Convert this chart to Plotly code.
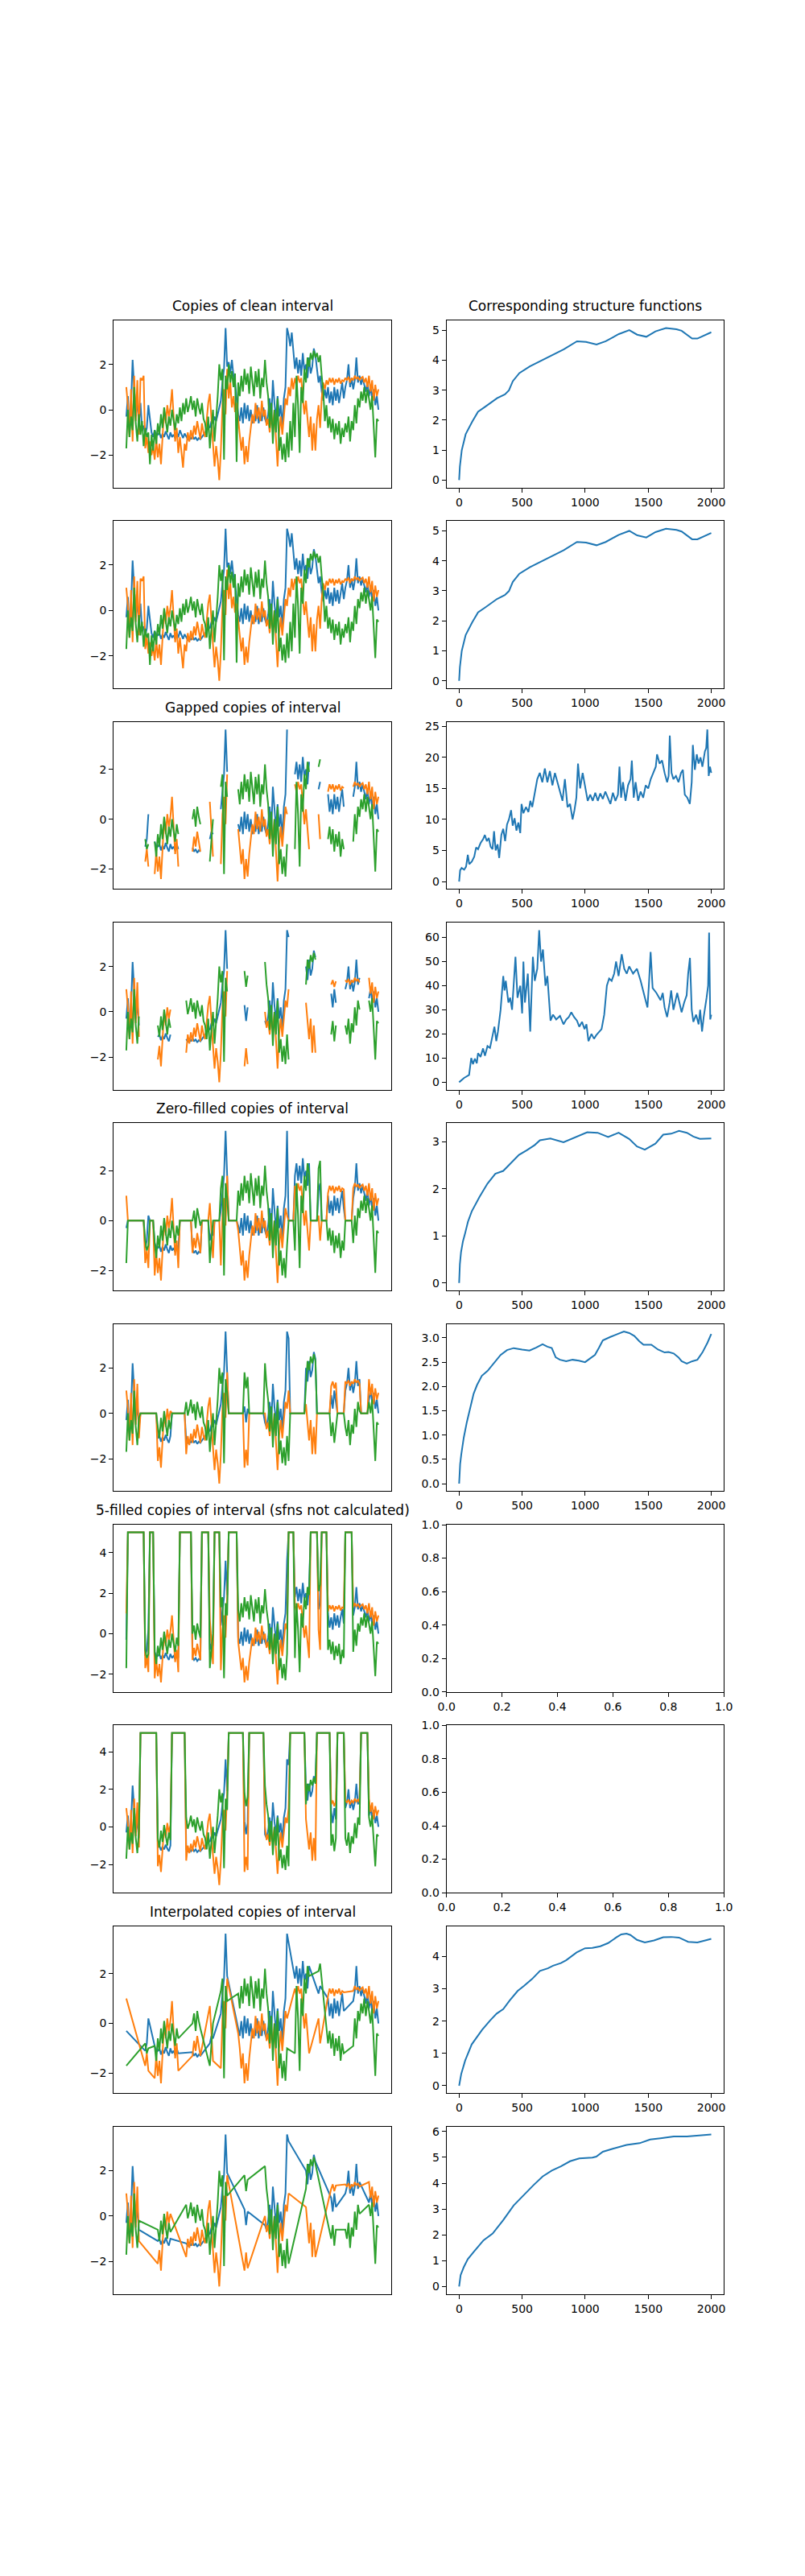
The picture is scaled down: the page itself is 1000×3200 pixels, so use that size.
import plotly.graph_objects as go

# three copies of the clean interval, 161 samples each
idx = list(range(161))
blue = [
    -0.3, 0.6, -0.9, 0.2, 2.2, 0.9, -0.3, 0.4, -0.6, 0.3,
    -0.9, -0.7, -1.1, -0.8, 0.2, -0.4, -1.0, -1.2, -0.9, -1.1,
    -1.1, -1.0, -1.25, -1.05, -1.2, -0.95, -1.15, -1.3, -1.0, -1.2,
    -1.1, -1.25, -1.0, -1.2, -0.9, -1.1, -1.25, -1.05, -1.2, -1.3,
    -1.2, -1.3, -1.15, -1.3, -1.2, -1.35, -1.25, -1.3, -1.2, -1.1,
    -1.0, -0.9, -0.7, -0.8, -0.5, -0.6, -0.3, -0.5, -0.2, 0.1,
    0.4, 1.2, 1.8, 3.6, 1.9, 2.1, 1.6, 2.2, 1.5, 1.2,
    0.6, -0.2, -0.5, 0.1, -0.6, 0.3, -0.4, 0.2, -0.5, 0.0,
    -0.6, -0.3, -0.5, 0.2, -0.6, -0.2, -0.5, 0.1, -0.4, -0.6,
    -0.2, 0.5, -0.5, 1.3, 0.3, -0.4, 0.6, -0.3, 0.2, -0.8,
    0.5, 1.0, 3.6, 3.3, 2.8, 3.4, 2.6, 1.8, 2.3, 1.6,
    2.2, 1.5, 2.5, 1.7, 2.0, 1.4, 2.3, 1.6, 1.9, 2.7,
    2.4, 1.8, 1.2, 1.5, 0.8, 0.4, 0.9, 0.5, 1.0, 0.3,
    0.8, 0.2, 1.0, 0.4, 0.9, 0.3, 0.8, 1.2, 0.5, 1.0,
    1.3, 2.0, 1.0, 1.4, 0.9, 1.3, 2.3, 1.2, 1.5, 1.1,
    1.4, 1.1, 0.8, 1.2, 0.6, 1.0, 0.5, 0.9, 0.2, 0.6, 0.0,
]
orange = [
    1.0, 0.2, -1.2, 0.9, -1.4, 1.5, -0.5, 1.3, -1.1, 1.4,
    1.3, 1.5, -1.7, -1.2, -1.9, -1.4, -2.0, -1.6, -2.2, -1.3,
    -2.1, -1.5, -2.4, -1.2, 0.0, -0.6, 0.2, -0.3, 0.1, 0.9,
    -0.5, -1.4, -0.8, -1.9, -1.2, -2.0, -2.55, -1.5, -1.8, -1.0,
    -1.4, -0.9, -1.3, -0.7, -1.1, -0.5, -0.9, -1.3, -0.6, -1.0,
    -1.2, -0.4, 0.3, 0.7, -0.6, -1.5, -2.5, -1.6, -2.2, -3.1,
    -1.8, 0.2, 0.9, -0.2, 1.8, 0.5, 1.2, 0.1, 0.6, -0.1,
    0.3, -0.4, -1.0, -1.8, -1.2, -2.4, -1.6, -2.3, -1.4, -0.8,
    -0.2, -0.6, 0.3, -0.4, 0.1, -0.5, 0.4, -0.3, 0.0, -0.7,
    -0.4, -1.0, -0.2, -0.8, 0.0, -1.3, -2.5, -1.0, -0.3, -1.1,
    -0.2, 0.5, 0.2, 1.0, 0.6, 1.4, 0.9, 1.4, 1.1, 1.5,
    1.2, 1.4, 0.5, -0.2, 0.4, -0.5, -1.2, -0.3, -1.8, -0.6,
    -1.8, -0.4, 0.2, -0.8, 0.5, 1.2, 0.9, 1.3, 1.1, 1.4,
    1.2, 1.4, 1.1, 1.35, 1.2, 1.4, 1.15, 1.3, 1.25, 1.4,
    1.3, 1.45, 1.2, 1.4, 1.3, 1.5, 1.35, 1.45, 1.3, 1.4,
    1.45, 1.2, 1.4, 1.0, 1.5, 0.8, 1.3, 0.4, 1.1, 0.6, 0.9,
]
green = [
    -1.7, 0.0, -1.2, -0.3, -0.9, 1.0, -0.6, -1.4, -0.2, -1.1,
    -0.5, -1.6, -0.8, -1.2, -1.0, -2.4, -1.1, -1.8, -0.9, -1.5,
    -0.6, -1.1, -0.2, -0.8, 0.1, -0.5, -1.0, -0.3, -0.7, 0.0,
    -0.4, -0.9, -0.2, -0.6, 0.1, -0.5, 0.3, -0.2, 0.5, -0.1,
    0.2, 0.6, 0.0, 0.4, -0.3, 0.5, 0.1, -0.2, 0.3, -0.4,
    -0.6, -1.2, -0.3, -1.7, -0.8, 0.0, -1.4, -0.5, 0.6, 2.0,
    1.3, 1.8, -2.2, 1.5, 0.9, 2.0, 1.2, 1.7, 1.0, 1.6,
    -2.3, 1.2, 0.6, 1.5, 0.8, 1.8, 1.1, 1.6, 0.7, 1.9,
    1.3, 0.6, 1.7, 1.0, 1.8, 0.5, 1.4, 1.0, 2.2, 1.2,
    0.6, -0.8, 0.3, -1.5, 0.0, -1.0, 0.5, -1.8, -1.2, -2.2,
    -1.5, -2.3, -1.0, -2.1, -0.5, -1.8, 0.3, -1.2, 1.5, 0.2,
    -1.9, 1.0, 0.3, 1.8, 1.2, 2.3, 1.9, 2.5, 2.2, 2.6,
    2.3, 2.5, 2.1, 2.4, 1.5, 0.8, -0.5, 0.2, -0.8, -0.3,
    -1.0, -0.4, -1.3, -0.6, -1.1, -0.5, -1.5, -0.8, -1.2, -0.6,
    -1.0, -0.3, -1.4, -0.5, -0.9, 0.2, -0.6, 0.5, 0.1, 0.8,
    0.4, 1.0, 0.3, 0.9, 0.5, 0.0, 0.6, -0.9, -2.1, -0.4, -0.5,
]

# missing index ranges [start, end) for the two gapped versions
gaps_a = [(1, 12), (15, 18), (34, 42), (48, 53), (56, 60), (65, 71),
          (103, 107), (117, 122), (124, 128), (139, 144)]
gaps_b = [(9, 20), (29, 38), (65, 75), (78, 88), (104, 114),
          (121, 130), (134, 139), (149, 154)]

# structure functions (lag, value)
lags_clean = [0, 6, 21, 52, 104, 150, 208, 260, 301, 363, 395, 426, 478, 561, 665, 737,
              831, 935, 1007, 1090, 1163, 1267, 1350, 1412, 1485, 1558, 1641, 1724, 1765,
              1848, 1890, 2000]
sf_clean = [0, 0.45, 1.0, 1.53, 1.95, 2.28, 2.45, 2.6, 2.73, 2.86, 2.99, 3.3, 3.57, 3.79,
            4.01, 4.17, 4.36, 4.63, 4.61, 4.52, 4.63, 4.87, 5.0, 4.85, 4.78, 4.96, 5.07,
            5.03, 4.98, 4.72, 4.72, 4.93]

lags_gap_a = [0, 8, 20, 40, 55, 69, 80, 100, 120, 135,
              150, 170, 190, 204, 220, 235, 250, 265, 277, 290,
              305, 318, 335, 350, 365, 380, 395, 412, 425, 440,
              455, 470, 485, 495, 510, 530, 550, 565, 580, 600,
              620, 640, 660, 680, 700, 720, 740, 760, 780, 800,
              820, 839, 860, 880, 900, 915, 930, 943, 960, 980,
              1000, 1020, 1040, 1060, 1080, 1100, 1120, 1140, 1160, 1180,
              1200, 1220, 1240, 1260, 1272, 1285, 1300, 1320, 1340, 1360,
              1370, 1385, 1400, 1420, 1440, 1460, 1480, 1500, 1520, 1540,
              1560, 1570, 1590, 1610, 1630, 1650, 1662, 1671, 1685, 1700,
              1720, 1740, 1760, 1775, 1790, 1810, 1830, 1845, 1854, 1870,
              1885, 1900, 1915, 1930, 1950, 1960, 1969, 1980, 1990, 2000]
sf_gap_a = [0, 1.8, 2.2, 1.9, 2.4, 4.3, 2.8, 3.2, 4.0, 5.5,
            5.2, 6.2, 6.8, 7.5, 6.5, 7.0, 5.6, 5.2, 8.1, 5.0,
            6.0, 3.8, 7.5, 8.5, 6.5, 9.2, 10.0, 11.5, 9.0, 10.2,
            8.2, 9.5, 7.8, 12.5, 11.0, 12.0, 11.2, 13.0, 12.0, 14.5,
            16.5, 17.5, 16.0, 18.2, 16.0, 17.8, 15.5, 17.5, 16.0, 14.5,
            13.0, 16.5, 12.0, 12.5, 10.0, 11.5, 13.5, 19.0, 15.0, 17.5,
            15.0, 13.0, 14.0, 13.0, 14.3, 13.0, 14.2, 13.3, 14.5, 13.5,
            12.5, 14.3, 13.0, 14.0, 18.5, 13.5, 16.0, 13.0, 15.5, 16.5,
            19.5, 13.5, 16.0, 13.0, 14.5, 13.5, 15.5, 15.0, 16.5, 17.5,
            18.5, 20.5, 19.0, 19.5, 17.5, 16.0, 17.0, 23.5, 17.5, 16.5,
            17.0, 16.0, 17.5, 18.0, 14.0, 13.5, 12.5, 16.0, 22.0, 18.0,
            20.5, 19.0, 20.0, 18.5, 21.0, 21.5, 24.5, 17.0, 18.5, 17.5]

lags_gap_b = [0, 40, 79, 96, 110, 125, 140, 150, 170, 190,
              205, 225, 245, 266, 280, 295, 308, 329, 350, 360,
              370, 391, 405, 420, 447, 463, 485, 500, 510, 522,
              545, 564, 585, 600, 620, 635, 650, 665, 685, 700,
              714, 725, 745, 770, 800, 828, 850, 870, 890, 912,
              935, 953, 975, 995, 1010, 1026, 1050, 1070, 1088, 1110,
              1130, 1151, 1172, 1190, 1210, 1230, 1245, 1265, 1290, 1310,
              1330, 1349, 1380, 1411, 1440, 1474, 1494, 1505, 1519, 1535,
              1565, 1598, 1615, 1630, 1650, 1670, 1682, 1700, 1730, 1765,
              1785, 1805, 1817, 1831, 1845, 1858, 1880, 1900, 1912, 1927,
              1940, 1963, 1975, 1983, 1992, 2000]
sf_gap_b = [0, 1.8, 3.0, 10.0, 7.5, 9.8, 7.8, 12.0, 10.5, 14.0,
            11.0, 15.0, 14.2, 20.0, 23.0, 17.0, 21.0, 30.0, 44.0, 38.0,
            42.0, 33.0, 35.0, 30.0, 52.0, 35.0, 40.0, 28.5, 50.0, 33.0,
            45.0, 21.0, 52.0, 42.0, 47.0, 63.0, 50.0, 55.0, 40.0, 44.0,
            35.0, 25.5, 28.0, 26.0, 27.5, 24.0, 26.0, 27.0, 29.0, 27.0,
            25.5, 23.0, 25.0, 22.0, 24.0, 17.0, 20.0, 18.0, 19.5, 21.0,
            22.0, 28.0, 40.0, 43.0, 42.0, 45.0, 50.0, 44.0, 53.0, 47.0,
            45.0, 48.0, 45.0, 47.0, 42.0, 35.0, 31.0, 40.0, 54.0, 39.0,
            37.0, 34.0, 37.0, 31.0, 27.0, 33.0, 38.0, 30.0, 37.0, 29.0,
            33.0, 36.0, 45.0, 51.5, 30.0, 25.0, 28.0, 24.0, 30.0, 21.0,
            27.0, 35.0, 40.0, 62.0, 26.0, 28.0]

lags_zero_a = [0, 6, 15, 30, 48, 70, 100, 130, 162, 225, 287, 350, 412, 475, 537, 600,
               641, 724, 828, 932, 1016, 1099, 1182, 1265, 1349, 1411, 1473, 1557, 1619,
               1682, 1744, 1807, 1858, 1910, 2000]
sf_zero_a = [0, 0.4, 0.65, 0.88, 1.06, 1.3, 1.52, 1.68, 1.83, 2.11, 2.32, 2.38, 2.55, 2.72,
             2.82, 2.93, 3.03, 3.07, 2.99, 3.1, 3.2, 3.19, 3.1, 3.19, 3.06, 2.9, 2.83, 2.96,
             3.15, 3.17, 3.23, 3.19, 3.11, 3.06, 3.07]

lags_zero_b = [0, 8, 17, 37, 60, 90, 115, 142, 180, 225, 280, 329, 380, 433, 500, 558, 610,
               662, 700, 735, 766, 800, 849, 900, 950, 999, 1040, 1078, 1110, 1140, 1200,
               1250, 1307, 1350, 1390, 1430, 1463, 1525, 1578, 1630, 1661, 1702, 1740, 1765,
               1806, 1850, 1890, 1930, 1970, 2000]
sf_zero_b = [0, 0.4, 0.6, 0.95, 1.25, 1.6, 1.85, 2.03, 2.22, 2.32, 2.5, 2.65, 2.75, 2.79,
             2.76, 2.74, 2.8, 2.87, 2.82, 2.79, 2.6, 2.55, 2.52, 2.55, 2.53, 2.5, 2.58, 2.65,
             2.8, 2.95, 3.02, 3.07, 3.13, 3.1, 3.04, 2.93, 2.86, 2.86, 2.76, 2.7, 2.71, 2.68,
             2.6, 2.52, 2.47, 2.52, 2.55, 2.7, 2.9, 3.08]

lags_interp_a = [0, 17, 48, 100, 183, 246, 298, 350, 402, 464, 516, 579, 641, 704, 745, 807,
                 849, 932, 999, 1057, 1120, 1182, 1245, 1286, 1328, 1359, 1411, 1473, 1546,
                 1619, 1682, 1744, 1817, 1890, 1952, 2000]
sf_interp_a = [0, 0.37, 0.78, 1.28, 1.73, 2.02, 2.23, 2.37, 2.64, 2.93, 3.09, 3.3, 3.55, 3.63,
               3.71, 3.79, 3.88, 4.12, 4.25, 4.26, 4.31, 4.41, 4.58, 4.68, 4.7, 4.66, 4.51,
               4.43, 4.49, 4.59, 4.6, 4.58, 4.45, 4.43, 4.49, 4.54]

lags_interp_b = [0, 12, 37, 69, 121, 194, 266, 350, 433, 516, 589, 662, 735, 807, 880, 953,
                 1057, 1088, 1140, 1224, 1328, 1432, 1515, 1598, 1702, 1807, 1890, 2000]
sf_interp_b = [0, 0.44, 0.75, 1.06, 1.37, 1.79, 2.05, 2.57, 3.14, 3.56, 3.92, 4.26, 4.49,
               4.65, 4.85, 4.96, 4.99, 5.03, 5.22, 5.34, 5.48, 5.55, 5.69, 5.74, 5.81, 5.81,
               5.84, 5.89]

colors = ["#1f77b4", "#ff7f0e", "#2ca02c"]

left_rows = [
    ("Copies of clean interval", None, None),
    ("", None, None),
    ("Gapped copies of interval", gaps_a, None),
    ("", gaps_b, None),
    ("Zero-filled copies of interval", gaps_a, 0),
    ("", gaps_b, 0),
    ("5-filled copies of interval (sfns not calculated)", gaps_a, 5),
    ("", gaps_b, 5),
    ("Interpolated copies of interval", gaps_a, "interp"),
    ("", gaps_b, "interp"),
]
right_rows = [
    (lags_clean, sf_clean, 1, None),
    (lags_clean, sf_clean, 1, None),
    (lags_gap_a, sf_gap_a, 5, None),
    (lags_gap_b, sf_gap_b, 10, None),
    (lags_zero_a, sf_zero_a, 1, None),
    (lags_zero_b, sf_zero_b, 0.5, ".1f"),
    None,
    None,
    (lags_interp_a, sf_interp_a, 1, None),
    (lags_interp_b, sf_interp_b, 1, None),
]


def apply_gaps(series, gaps, fill):
    out = list(series)
    if gaps is None:
        return out
    for a, b in gaps:
        for i in range(a, b):
            out[i] = None if fill == "interp" else fill
    return out


def padded(vals):
    lo, hi = min(vals), max(vals)
    pad = 0.05 * (hi - lo)
    return [lo - pad, hi + pad]


def ax_name(kind, n):
    return kind if n == 1 else "%s%d" % (kind, n)


W, H = 1000, 3200
left_dom = [0.125, 0.125 + 0.775 / 2.2]
right_dom = [0.9 - 0.775 / 2.2, 0.9]
h = 0.77 / 11.8
gap = 0.2 * h

font = dict(family="DejaVu Sans", size=14, color="black")
axis_style = dict(showline=True, mirror=True, linecolor="black", linewidth=1,
                  showgrid=False, zeroline=False, ticks="outside", ticklen=5,
                  tickwidth=1, tickcolor="black", tickfont=font)
title_font = dict(family="DejaVu Sans", size=17, color="black")

fig = go.Figure()
layout = {}
annotations = []

for r in range(10):
    top = 0.88 - r * (h + gap)
    ydom = [top - h, top]
    nl, nr = 2 * r + 1, 2 * r + 2
    xl, yl = ax_name("x", nl), ax_name("y", nl)
    xr, yr = ax_name("x", nr), ax_name("y", nr)

    title, gaps, fill = left_rows[r]
    shown = []
    for s, c in zip([blue, orange, green], colors):
        ys = apply_gaps(s, gaps, fill)
        shown += [v for v in ys if v is not None]
        fig.add_trace(go.Scatter(x=idx, y=ys, mode="lines", line=dict(color=c, width=2),
                                 connectgaps=(fill == "interp"), showlegend=False,
                                 xaxis=xl, yaxis=yl))
    layout[ax_name("xaxis", nl)] = dict(axis_style, domain=left_dom, anchor=yl,
                                        range=[-8, 168], showticklabels=False, ticks="")
    layout[ax_name("yaxis", nl)] = dict(axis_style, domain=ydom, anchor=xl,
                                        range=padded(shown), dtick=2, tick0=0)
    if title:
        annotations.append(dict(text=title, x=sum(left_dom) / 2, y=top + 6 / H,
                                xref="paper", yref="paper", xanchor="center",
                                yanchor="bottom", showarrow=False, font=title_font))

    spec = right_rows[r]
    if spec is None:
        # empty axes (nothing plotted), kept visible with an empty trace
        fig.add_trace(go.Scatter(x=[], y=[], mode="lines", showlegend=False,
                                 hoverinfo="skip", xaxis=xr, yaxis=yr))
        layout[ax_name("xaxis", nr)] = dict(axis_style, domain=right_dom, anchor=yr,
                                            range=[0, 1], dtick=0.2, tick0=0,
                                            tickformat=".1f")
        layout[ax_name("yaxis", nr)] = dict(axis_style, domain=ydom, anchor=xr,
                                            range=[0, 1], dtick=0.2, tick0=0,
                                            tickformat=".1f")
    else:
        lags, sf, dt, fmt = spec
        fig.add_trace(go.Scatter(x=lags, y=sf, mode="lines",
                                 line=dict(color=colors[0], width=2), showlegend=False,
                                 xaxis=xr, yaxis=yr))
        layout[ax_name("xaxis", nr)] = dict(axis_style, domain=right_dom, anchor=yr,
                                            range=[-100, 2100], dtick=500, tick0=0)
        ya = dict(axis_style, domain=ydom, anchor=xr, range=padded(sf),
                  dtick=dt, tick0=0)
        if fmt:
            ya["tickformat"] = fmt
        layout[ax_name("yaxis", nr)] = ya

annotations.append(dict(text="Corresponding structure functions", x=sum(right_dom) / 2,
                        y=0.88 + 6 / H, xref="paper", yref="paper", xanchor="center",
                        yanchor="bottom", showarrow=False, font=title_font))

fig.update_layout(**layout)
fig.update_layout(width=W, height=H, autosize=False, margin=dict(l=0, r=0, t=0, b=0),
                  paper_bgcolor="white", plot_bgcolor="white",
                  annotations=annotations, showlegend=False)

fig.write_html("out.html")
